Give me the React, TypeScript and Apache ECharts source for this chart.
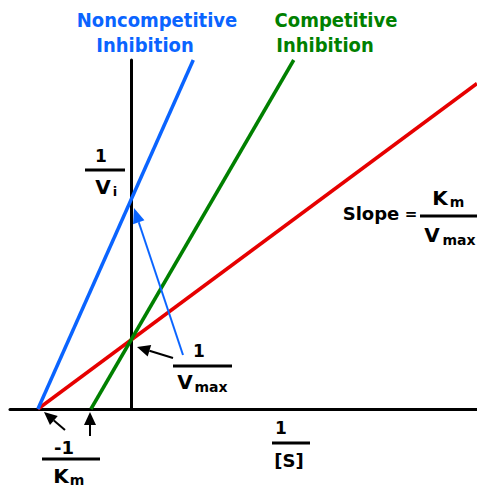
import React, { useEffect, useRef } from "react";
import * as echarts from "echarts";

// Lineweaver-Burk plot (units: 1/[S] in units of 1/Km, 1/v in units of 1/Vmax)
const normalLine: [number, number][] = [[-1, 0], [3.72, 4.72]];
const noncompetitiveLine: [number, number][] = [[-1, 0], [0.67, 5.06]];
const competitiveLine: [number, number][] = [[-0.43, 0], [1.75, 5.06]];
const xRange = [-1.3, 3.72];
const yRange = [0, 5.06];

const RED = "#e60000";
const BLUE = "#0a64ff";
const GREEN = "#008000";
const FONT = "DejaVu Sans";

function arrow(x1: number, y1: number, x2: number, y2: number, color: string, len = 12, w = 5, lw = 2) {
  const dx = x2 - x1, dy = y2 - y1;
  const d = Math.hypot(dx, dy);
  const ux = dx / d, uy = dy / d;
  const bx = x2 - ux * len, by = y2 - uy * len;
  const px = -uy, py = ux;
  return [
    { type: "line", z: 100, shape: { x1, y1, x2: bx, y2: by }, style: { stroke: color, lineWidth: lw } },
    {
      type: "polygon", z: 100,
      shape: { points: [[x2, y2], [bx + px * w, by + py * w], [bx - px * w, by - py * w]] },
      style: { fill: color },
    },
  ];
}

function txt(text: string, x: number, y: number, size: number, color = "#000", align = "center", scaleY = 1) {
  return {
    type: "text", z: 100, x, y, scaleY, originX: 0, originY: 0,
    style: { text, fill: color, font: `bold ${size}px "${FONT}"`, textAlign: align, textVerticalAlign: "middle" },
  };
}

function bar(x1: number, x2: number, y: number) {
  return { type: "rect", z: 100, shape: { x: x1, y: y - 1.5, width: x2 - x1, height: 3 }, style: { fill: "#000" } };
}

export default function App() {
  const ref = useRef<HTMLDivElement>(null);
  useEffect(() => {
    const chart = echarts.init(ref.current!, null, { renderer: "svg" });
    const graphic: any[] = [
      txt("Noncompetitive", 157, 20, 18, BLUE, "center", 1.08),
      txt("Inhibition", 145, 45, 18, BLUE, "center", 1.08),
      txt("Competitive", 336, 20, 18, GREEN, "center", 1.08),
      txt("Inhibition", 325, 45, 18, GREEN, "center", 1.08),
      // 1 / Vi
      txt("1", 101, 156, 17),
      bar(85, 125, 170),
      txt("V", 103, 187, 20),
      txt("i", 115, 191, 13),
      // Slope = Km / Vmax
      txt("Slope", 371, 213, 18),
      txt("=", 411, 214, 15),
      txt("K", 440, 198, 20),
      txt("m", 457, 202, 14),
      bar(420, 477, 216),
      txt("V", 432, 235, 20),
      txt("max", 459, 240, 14),
      // 1 / Vmax
      txt("1", 199, 351, 17),
      bar(173, 232, 366),
      txt("V", 185, 382, 20),
      txt("max", 211, 387, 14),
      // -1 / Km
      txt("-1", 64, 447, 18),
      bar(42, 100, 459),
      txt("K", 61, 476, 20),
      txt("m", 77, 480, 14),
      // 1 / [S]
      txt("1", 281, 428, 17),
      bar(272, 310, 443),
      txt("[S]", 289, 460, 18),
      ...arrow(173, 358, 137, 347, "#000", 13, 6),
      ...arrow(65, 430, 44, 412, "#000", 13, 6),
      ...arrow(90, 436, 90, 412, "#000", 13, 6),
      ...arrow(183, 355, 134, 208, BLUE, 15, 6, 2),
    ];
    chart.setOption({
      animation: false,
      grid: { left: 10, right: 0, top: 60, bottom: 78 },
      xAxis: {
        type: "value", min: xRange[0], max: xRange[1],
        axisLine: { onZero: true, lineStyle: { color: "#000", width: 3 } },
        axisTick: { show: false }, axisLabel: { show: false }, splitLine: { show: false },
      },
      yAxis: {
        type: "value", min: yRange[0], max: yRange[1],
        axisLine: { show: true, onZero: true, lineStyle: { color: "#000", width: 3 } },
        axisTick: { show: false }, axisLabel: { show: false }, splitLine: { show: false },
      },
      series: [
        { type: "line", data: normalLine, symbol: "none", lineStyle: { color: RED, width: 3.5 }, z: 3 },
        { type: "line", data: competitiveLine, symbol: "none", lineStyle: { color: GREEN, width: 3.5 }, z: 4 },
        { type: "line", data: noncompetitiveLine, symbol: "none", lineStyle: { color: BLUE, width: 3.5 }, z: 5 },
      ],
      graphic,
    });
    return () => chart.dispose();
  }, []);
  return <div ref={ref} style={{ width: 477, height: 487, position: "absolute", left: 0, top: 0 }} />;
}
